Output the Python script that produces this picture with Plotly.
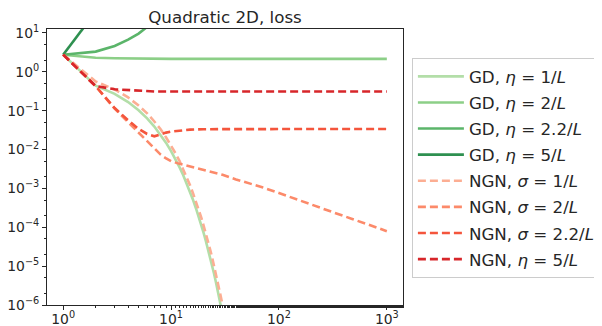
import plotly.graph_objects as go

# ---------------- data ----------------
k_gd1 = list(range(1, 31))
gd_1 = [2.75, 0.437, 0.269, 0.166, 0.102, 0.0631, 0.0389, 0.0240, 0.0148, 0.00912,
        0.00562, 0.00347, 0.00214, 0.00132, 8.13e-4, 5.01e-4, 3.09e-4, 1.91e-4, 1.17e-4, 7.24e-5,
        4.47e-5, 2.75e-5, 1.70e-5, 1.05e-5, 6.46e-6, 3.98e-6, 2.45e-6, 1.51e-6, 9.33e-7, 5.75e-7]

k_gd2 = [1, 2, 3, 4, 5, 7, 10, 20, 50, 100, 200, 500, 1000]
gd_2 = [2.75, 2.3, 2.22, 2.18, 2.16, 2.15, 2.15, 2.15, 2.15, 2.15, 2.15, 2.15, 2.15]

k_gd22 = [1, 2, 3, 4, 5, 6, 7]
gd_22 = [2.75, 3.3, 4.6, 6.7, 9.6, 13.9, 20]

k_gd5 = [1, 2]
gd_5 = [2.75, 35]

k_ngn1 = list(range(1, 32))
ngn_1 = [2.75, 0.562, 0.351, 0.219, 0.135, 0.0851, 0.0525, 0.0331, 0.0204, 0.0129,
         0.00794, 0.00501, 0.00309, 0.00195, 0.00120, 7.41e-4, 4.68e-4, 2.88e-4, 1.82e-4, 1.12e-4,
         7.08e-5, 4.37e-5, 2.69e-5, 1.70e-5, 1.05e-5, 6.61e-6, 4.07e-6, 2.57e-6, 1.58e-6, 1.0e-6,
         6.17e-7]

k_ngn2 = [1, 2, 3, 4, 5, 6, 7, 8, 9, 10, 12, 15, 20, 30, 40, 56, 70, 100, 150, 230, 300, 470, 700, 1000]
ngn_2 = [2.75, 0.427, 0.112, 0.0501, 0.0263, 0.0158, 0.0105, 0.00741, 0.00589, 0.00501,
         0.00427, 0.00363, 0.00288, 0.00224, 0.00170, 0.00132, 0.00107, 7.59e-4, 5.01e-4, 3.31e-4,
         2.57e-4, 1.66e-4, 1.12e-4, 7.94e-5]

k_ngn22 = [1, 2, 3, 4, 5, 6, 7, 8, 9, 10, 12, 15, 20, 30, 50, 100, 200, 500, 1000]
ngn_22 = [2.75, 0.427, 0.117, 0.0562, 0.0339, 0.0251, 0.0219, 0.0251, 0.0272, 0.0288,
          0.0309, 0.0324, 0.0333, 0.0336, 0.0337, 0.0337, 0.0337, 0.0337, 0.0337]

k_ngn5 = [1, 2, 3, 4, 5, 6, 7, 10, 20, 50, 100, 200, 500, 1000]
ngn_5 = [2.75, 0.427, 0.355, 0.335, 0.32, 0.313, 0.31, 0.31, 0.31, 0.31, 0.31, 0.31, 0.31, 0.31]

labels = [
    "GD, <i>η</i> = 1/<i>L</i>",
    "GD, <i>η</i> = 2/<i>L</i>",
    "GD, <i>η</i> = 2.2/<i>L</i>",
    "GD, <i>η</i> = 5/<i>L</i>",
    "NGN, <i>σ</i> = 1/<i>L</i>",
    "NGN, <i>σ</i> = 2/<i>L</i>",
    "NGN, <i>σ</i> = 2.2/<i>L</i>",
    "NGN, <i>η</i> = 5/<i>L</i>",
]

x_tickvals = [1, 10, 100, 1000]
x_ticktext = ["10<sup>0</sup>", "10<sup>1</sup>", "10<sup>2</sup>", "10<sup>3</sup>"]
y_tickvals = [1e-6, 1e-5, 1e-4, 1e-3, 1e-2, 1e-1, 1, 10]
y_ticktext = ["10<sup>−6</sup>", "10<sup>−5</sup>", "10<sup>−4</sup>", "10<sup>−3</sup>",
              "10<sup>−2</sup>", "10<sup>−1</sup>", "10<sup>0</sup>", "10<sup>1</sup>"]

# ---------------- styles ----------------
greens = ["#b3dea8", "#8ccf87", "#5bb56a", "#2e9050"]
reds = ["#fcae93", "#fc8a6a", "#f4553c", "#d7262a"]

series = [
    (k_gd1, gd_1, greens[0], "solid"),
    (k_gd2, gd_2, greens[1], "solid"),
    (k_gd22, gd_22, greens[2], "solid"),
    (k_gd5, gd_5, greens[3], "solid"),
    (k_ngn1, ngn_1, reds[0], "8px,4px"),
    (k_ngn2, ngn_2, reds[1], "8px,4px"),
    (k_ngn22, ngn_22, reds[2], "8px,4px"),
    (k_ngn5, ngn_5, reds[3], "8px,4px"),
]

fig = go.Figure()
for i, ((xs, ys, col, dash), name) in enumerate(zip(series, labels)):
    fig.add_trace(go.Scatter(
        x=xs, y=ys, mode="lines", name=name, legendgroup=f"g{i}",
        line=dict(color=col, width=2.6, dash=dash),
    ))

axis_common = dict(
    showgrid=False, zeroline=False, showline=True, linecolor="#262626", linewidth=1,
    mirror=True, ticks="outside", ticklen=4, tickwidth=1, tickcolor="#262626",
    automargin=False,
    tickfont=dict(family="DejaVu Sans", size=13.9, color="#262626"),
    minor=dict(ticks="outside", ticklen=2, tickwidth=0.8, tickcolor="#262626", showgrid=False),
)

fig.update_xaxes(type="log", range=[-0.15, 3.15], tickvals=x_tickvals, ticktext=x_ticktext,
                 ticklabelstandoff=-3, **axis_common)
fig.update_yaxes(type="log", range=[-6, 1.1], tickvals=y_tickvals, ticktext=y_ticktext,
                 **axis_common)

# the page body adds an 8px offset, so the figure is laid out 8px up/left
W, H = 594, 318
fig.update_layout(
    width=W, height=H,
    margin=dict(l=39, r=199, t=21, b=21, autoexpand=False),
    paper_bgcolor="white", plot_bgcolor="white",
    font=dict(family="DejaVu Sans", color="#262626"),
    title=dict(text="Quadratic 2D, loss", x=0.5, xref="paper", xanchor="center",
               y=1 - 9 / H, yref="container", yanchor="middle",
               font=dict(family="DejaVu Sans", size=16.7, color="#262626")),
    showlegend=True,
    legend=dict(x=1.025, xanchor="left", y=0.895, yanchor="top",
                bordercolor="#cccccc", borderwidth=1, bgcolor="white",
                itemwidth=46,
                font=dict(family="DejaVu Sans", size=16.7, color="#262626"),
                tracegroupgap=1.4, traceorder="grouped"),
)

fig.write_html("out.html")
